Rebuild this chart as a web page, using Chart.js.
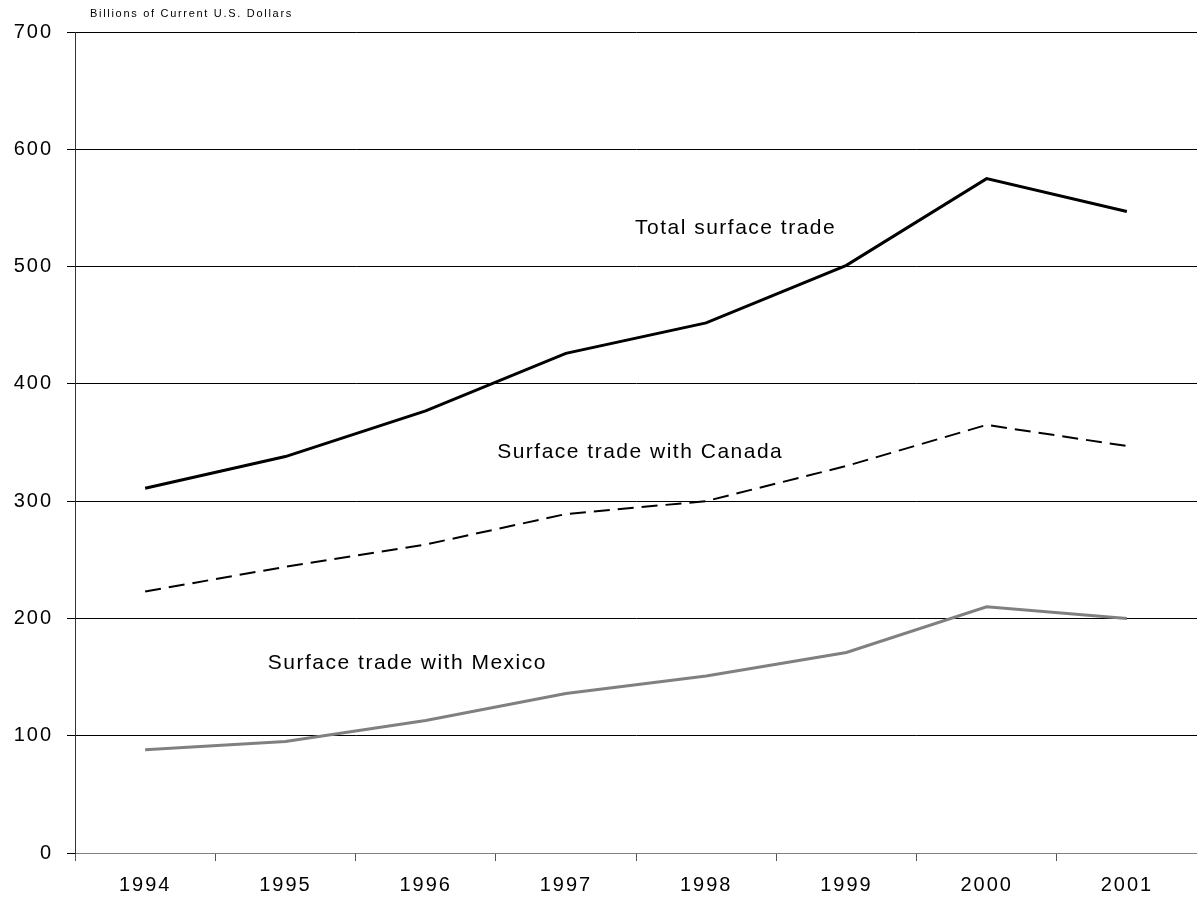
<!DOCTYPE html>
<html>
<head>
<meta charset="utf-8">
<script src="https://cdn.jsdelivr.net/npm/chart.js@4/dist/chart.umd.min.js"></script>
<style>
html,body{margin:0;padding:0;background:#fff;}
canvas{display:block;}
</style>
</head>
<body>
<canvas id="c" width="1197" height="899"></canvas>
<script>
const years = ['1994','1995','1996','1997','1998','1999','2000','2001'];
const totalTrade = [311, 338, 377, 426, 452, 501, 575, 547];
const canadaTrade = [223, 244, 263, 289, 300, 330, 365, 347];
const mexicoTrade = [88, 95, 113, 136, 151, 171, 210, 200];
const yTicks = [0, 100, 200, 300, 400, 500, 600, 700];
const seriesNames = ['Total surface trade', 'Surface trade with Canada', 'Surface trade with Mexico'];
const axisTitle = 'Billions of Current U.S. Dollars';

const FONT = '"Liberation Sans", Arial, sans-serif';

const textPlugin = {
  id: 'textPlugin',
  beforeDraw(chart) {
    chart.ctx.letterSpacing = '2px';
  },
  afterDraw(chart) {
    const ctx = chart.ctx;
    const xs = chart.scales.x, ys = chart.scales.y;
    ctx.save();
    ctx.fillStyle = '#000';
    ctx.textBaseline = 'middle';
    ctx.textAlign = 'left';
    ctx.letterSpacing = '1.7px';
    ctx.font = '11px ' + FONT;
    ctx.fillText(axisTitle, 90, 14);
    ctx.letterSpacing = '1.5px';
    ctx.font = '21px ' + FONT;
    ctx.textAlign = 'center';
    const spots = [[4.21, 533], [3.53, 342], [1.87, 162]];
    seriesNames.forEach((n, i) => {
      const px = xs.getPixelForValue(0) + spots[i][0] * (xs.getPixelForValue(1) - xs.getPixelForValue(0));
      ctx.fillText(n, px, ys.getPixelForValue(spots[i][1]));
    });
    ctx.restore();
    ctx.letterSpacing = '0px';
  }
};

new Chart(document.getElementById('c'), {
  type: 'line',
  data: {
    labels: years,
    datasets: [
      { label: seriesNames[0], data: totalTrade, borderColor: '#000', borderWidth: 3, pointRadius: 0, tension: 0, fill: false },
      { label: seriesNames[1], data: canadaTrade, borderColor: '#000', borderWidth: 2, borderDash: [16, 8], pointRadius: 0, tension: 0, fill: false },
      { label: seriesNames[2], data: mexicoTrade, borderColor: '#808080', borderWidth: 3, pointRadius: 0, tension: 0, fill: false }
    ]
  },
  options: {
    responsive: false,
    devicePixelRatio: 1,
    animation: false,
    layout: { padding: { top: 32, right: 0, bottom: 0, left: 0 } },
    plugins: { legend: { display: false }, tooltip: { enabled: false }, title: { display: false } },
    scales: {
      x: {
        type: 'category',
        offset: true,
        grid: { offset: true, drawOnChartArea: false, drawTicks: true, tickLength: 8, color: '#555' },
        border: { display: true, color: '#808080', width: 1 },
        ticks: { color: '#000', font: { family: FONT, size: 20 }, padding: 12, maxRotation: 0 },
        afterFit(s) { s.height = 46; }
      },
      y: {
        min: 0, max: 700,
        afterBuildTicks(s) { s.ticks = yTicks.map(v => ({ value: v })); },
        grid: { color: '#000', lineWidth: 1, drawTicks: true, tickLength: 8 },
        border: { display: true, color: '#333', width: 1 },
        ticks: { color: '#000', font: { family: FONT, size: 20 }, padding: 14 },
        afterFit(s) { s.width = 75; }
      }
    }
  },
  plugins: [textPlugin]
});
</script>
</body>
</html>
